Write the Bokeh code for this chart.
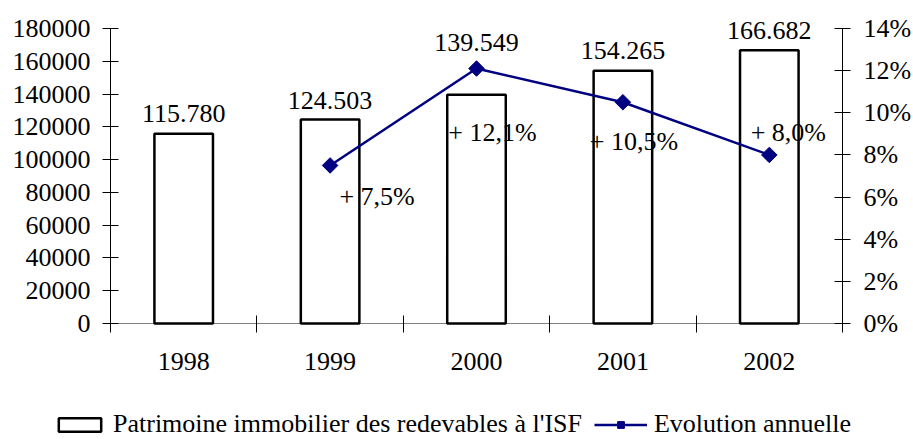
import math
from bokeh.plotting import figure
from bokeh.models import (Range1d, LinearAxis, FixedTicker, PrintfTickFormatter,
                          NumeralTickFormatter, Legend, LegendItem, ColumnDataSource)
from bokeh.core.properties import value
from bokeh.embed import file_html
from bokeh.resources import INLINE

# ---- data ----
years = ["1998", "1999", "2000", "2001", "2002"]
patrimoine = [115780, 124503, 139549, 154265, 166682]
evolution = [None, 7.5, 12.1, 10.5, 8.0]
left_ticks = list(range(0, 180001, 20000))
right_ticks = list(range(0, 15, 2))

# ---- styling (label offsets in pixels) ----
bar_label_gap = [20, 19, 52, 20, 20]
pct_dx = [47, 16, 11, 19]
pct_dy = [31, 64, 39, -22]

FONT = "'Liberation Serif', 'Times New Roman', serif"
FS = "26px"
NAVY = "#000080"

# layout in pixels: plot area edges inside the full-size frame
W, H = 913, 439
LEFT, RIGHT, TOP, ZERO = 110, 842, 28, 323
Y_MAX, P_MAX = 180000, 14
n = len(years)
ux = (RIGHT - LEFT) / n            # pixels per category
uy = (ZERO - TOP)                  # pixels for full value span
x_range = Range1d(0.5 - LEFT / ux, n + 0.5 + (W - RIGHT) / ux)
y_range = Range1d(-(H - ZERO) * Y_MAX / uy, Y_MAX + TOP * Y_MAX / uy)
p_range = Range1d(-(H - ZERO) * P_MAX / uy, P_MAX + TOP * P_MAX / uy)

xs = [i + 1 for i in range(n)]

p = figure(width=W, height=H, x_range=x_range, y_range=y_range,
           output_backend="svg", toolbar_location=None,
           min_border_left=0, min_border_right=0, min_border_top=0, min_border_bottom=0)
p.outline_line_color = None
p.xgrid.visible = False
p.ygrid.visible = False
p.background_fill_color = "white"
p.border_fill_color = "white"

# bars
bar_src = ColumnDataSource(dict(x=xs, top=patrimoine,
                                label=[f"{v:,}".replace(",", ".") for v in patrimoine],
                                yo=[-g for g in bar_label_gap]))
bars = p.vbar(x="x", top="top", width=0.4, source=bar_src, fill_color="white",
              line_color="black", line_width=2.5)
p.text(x="x", y="top", text="label", source=bar_src, y_offset="yo",
       text_font=value(FONT), text_font_size=FS, text_align="center",
       text_baseline="alphabetic", text_color="black")

# line
p.extra_y_ranges = {"pct": p_range}
lx = [x for x, e in zip(xs, evolution) if e is not None]
ly = [e for e in evolution if e is not None]
line_src = ColumnDataSource(dict(x=lx, y=ly,
                                 label=[f"+ {e:.1f}%".replace(".", ",") for e in ly],
                                 dx=pct_dx, dy=pct_dy))
ln = p.line(x="x", y="y", source=line_src, y_range_name="pct", line_color=NAVY, line_width=2.5)
pts = p.scatter(x="x", y="y", source=line_src, y_range_name="pct", marker="square",
                angle=math.pi / 4, size=11, fill_color=NAVY, line_color=NAVY)
p.text(x="x", y="y", text="label", source=line_src, y_range_name="pct",
       x_offset="dx", y_offset="dy", text_font=value(FONT), text_font_size=FS,
       text_align="center", text_baseline="alphabetic", text_color="black")

# axes (fixed at data positions inside the full frame)
xa = p.xaxis[0]
xa.fixed_location = 0
xa.bounds = (0.5, n + 0.5)
xa.level = "underlay"
xa.ticker = FixedTicker(ticks=xs, minor_ticks=[x - 0.5 for x in xs] + [xs[-1] + 0.5])
xa.major_label_overrides = {x: y for x, y in zip(xs, years)}
xa.axis_line_color = "#808080"
xa.major_tick_line_color = None
xa.major_tick_in = 0
xa.major_tick_out = 9
xa.minor_tick_in = 8
xa.minor_tick_out = 9
xa.minor_tick_line_color = "black"
xa.major_label_standoff = 20
xa.major_label_text_font = FONT
xa.major_label_text_font_size = FS
xa.major_label_text_color = "black"

ya = p.yaxis[0]
ya.fixed_location = 0.5
ya.ticker = FixedTicker(ticks=left_ticks)
ya.formatter = NumeralTickFormatter(format="0")
ya.bounds = (0, Y_MAX)

ra = LinearAxis(y_range_name="pct", ticker=FixedTicker(ticks=right_ticks),
                formatter=PrintfTickFormatter(format="%d%%"), bounds=(0, P_MAX),
                fixed_location=n + 0.5)
p.add_layout(ra, "right")

for ax, st in ((ya, 12), (ra, 13)):
    ax.axis_line_color = "black"
    ax.major_tick_line_color = "black"
    ax.major_tick_in = 8
    ax.major_tick_out = 8
    ax.minor_tick_line_color = None
    ax.major_label_standoff = st
    ax.major_label_text_font = FONT
    ax.major_label_text_font_size = FS
    ax.major_label_text_color = "black"

legend = Legend(items=[LegendItem(label="Patrimoine immobilier des redevables à l'ISF", renderers=[bars]),
                       LegendItem(label="Evolution annuelle", renderers=[ln, pts])],
                location=(53, 0), orientation="horizontal", glyph_width=53, glyph_height=17,
                label_text_font=FONT, label_text_font_size=FS, label_text_color="black",
                label_standoff=7, spacing=12,
                padding=0, margin=0, border_line_color=None, background_fill_alpha=0)
p.add_layout(legend)

open("out.html", "w").write(file_html(p, INLINE))
